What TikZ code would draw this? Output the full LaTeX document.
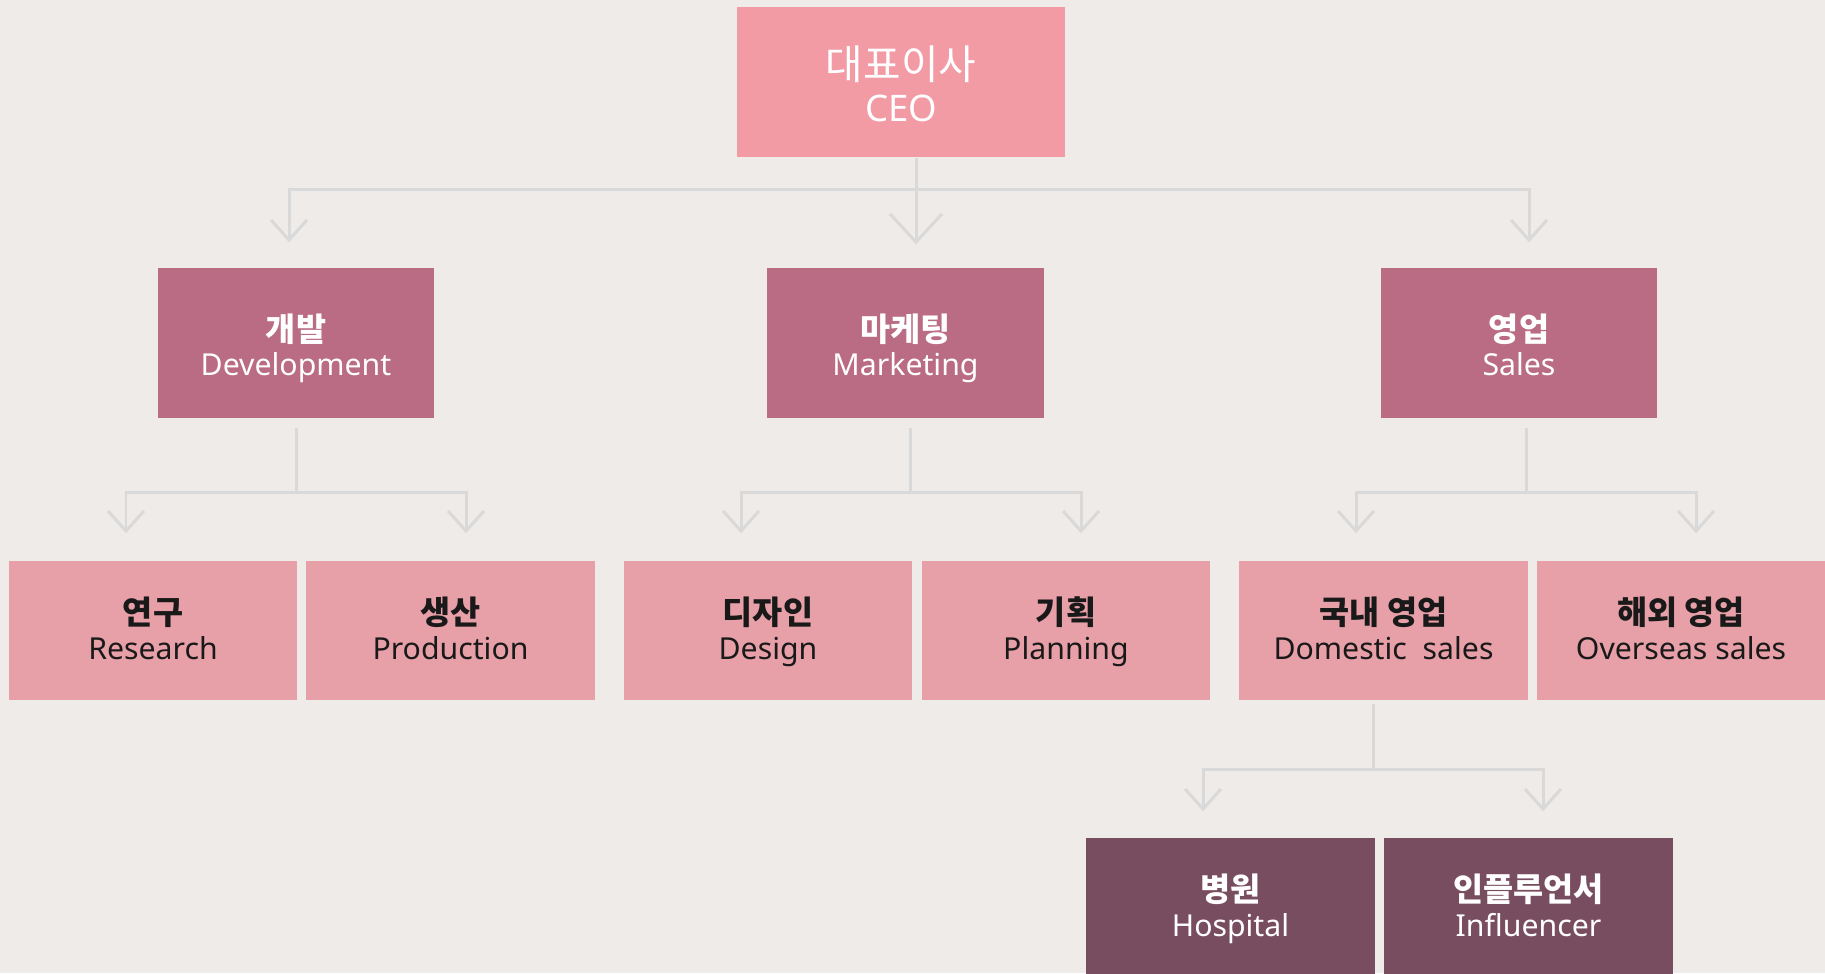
\documentclass[tikz,border=0pt]{standalone}
\usepackage{fontspec}
\setmainfont{Noto Sans}
\newfontfamily\kr{Noto Sans CJK KR}
\newcommand\firstht{10pt}
\newcommand\kor[1]{{\kr\bfseries\fontsize{9.3pt}{9.8pt}\selectfont\rule{0pt}{\firstht}\smash{#1}}}
\usetikzlibrary{arrows.meta,calc}
\tikzset{>={Straight Barb[length=5.7pt,width=10.2pt]}}
\definecolor{bg}{HTML}{EFEBE8}
\definecolor{ceocol}{HTML}{F29BA5}
\definecolor{deptcol}{HTML}{B96C83}
\definecolor{teamcol}{HTML}{E8A0A8}
\definecolor{unitcol}{HTML}{784D5F}
\definecolor{linecol}{HTML}{D9D9D9}
\tikzset{
  box/.style={inner sep=0pt, align=center, font=\fontsize{8.6pt}{9.8pt}\selectfont,
    execute at begin node=\def\firstht{#1}, execute at end node=\strut},
  ceobox/.style={box=14.2pt, fill=ceocol, text=white, minimum width=3.28cm, minimum height=1.5cm,
    font=\fontsize{10.4pt}{12pt}\selectfont},
  deptbox/.style={box=11.9pt, fill=deptcol, text=white, minimum width=2.76cm, minimum height=1.5cm},
  teambox/.style={box=9.5pt, fill=teamcol, text=black!90, minimum width=2.88cm, minimum height=1.39cm},
  unitbox/.style={box=9.4pt, fill=unitcol, text=white, minimum width=2.89cm, minimum height=1.39cm},
  conn/.style={draw=linecol, line width=0.85pt},
  bigtip/.style={-{Straight Barb[length=8pt,width=14.8pt]}}
}
\begin{document}
\begin{tikzpicture}[x=0.01cm, y=-0.01cm]
    \fill[bg] (0,0) rectangle (1825,973);
    \useasboundingbox (0,0) rectangle (1825,973);

    % top
    \node[ceobox] (ceo) at (901,82)
        {{\kr\fontsize{11.6pt}{12pt}\selectfont\rule{0pt}{\firstht}\smash{대표이사}}\\CEO};

    % departments
    \node[deptbox] (dev) at (296,343) {\kor{개발}\\Development};
    \node[deptbox] (mkt) at (905.5,343) {\kor{마케팅}\\Marketing};
    \node[deptbox] (sal) at (1519,343) {\kor{영업}\\Sales};

    % teams
    \node[teambox] (res) at (153,630.5) {\kor{연구}\\Research};
    \node[teambox] (pro) at (450.5,630.5) {\kor{생산}\\Production};
    \node[teambox] (des) at (768,630.5) {\kor{디자인}\\Design};
    \node[teambox] (pla) at (1066,630.5) {\kor{기획}\\Planning};
    \node[teambox] (dom) at (1383.5,630.5) {\kor{국내 영업}\\Domestic~~sales};
    \node[teambox] (ovs) at (1681,630.5) {\kor{해외 영업}\\Overseas sales};

    % domestic units
    \node[unitbox] (hos) at (1230.5,907.5) {\kor{병원}\\Hospital};
    \node[unitbox] (inf) at (1528.5,907.5) {\kor{인플루언서}\\Influencer};

    % connectors
    \draw[conn,bigtip] ($(ceo.south)+(15,0)$) -- ($(mkt.north)+(10.5,-23)$);
    \draw[conn,->] ($(ceo.south)+(15,32)$) -| ($(dev.north)+(-7,-25)$);
    \draw[conn,->] ($(ceo.south)+(15,32)$) -| ($(sal.north)+(10,-25)$);

    \draw[conn] ($(dev.south)+(0,9)$) -- ($(dev.south)+(0,74)$) coordinate (devj);
    \draw[conn,->] (devj) -| ($(res.north)+(-27,-27)$);
    \draw[conn,->] (devj) -| ($(pro.north)+(15.5,-27)$);

    \draw[conn] ($(mkt.south)+(4.5,9)$) -- ($(mkt.south)+(4.5,74)$) coordinate (mktj);
    \draw[conn,->] (mktj) -| ($(des.north)+(-27,-27)$);
    \draw[conn,->] (mktj) -| ($(pla.north)+(15,-27)$);

    \draw[conn] ($(sal.south)+(7,9)$) -- ($(sal.south)+(7,74)$) coordinate (salj);
    \draw[conn,->] (salj) -| ($(dom.north)+(-27.5,-27)$);
    \draw[conn,->] (salj) -| ($(ovs.north)+(15,-27)$);

    \draw[conn] ($(dom.south)+(-10.5,3)$) -- ($(dom.south)+(-10.5,69)$) coordinate (domj);
    \draw[conn,->] (domj) -| ($(hos.north)+(-27.5,-26)$);
    \draw[conn,->] (domj) -| ($(inf.north)+(14.5,-26)$);
\end{tikzpicture}
\end{document}
